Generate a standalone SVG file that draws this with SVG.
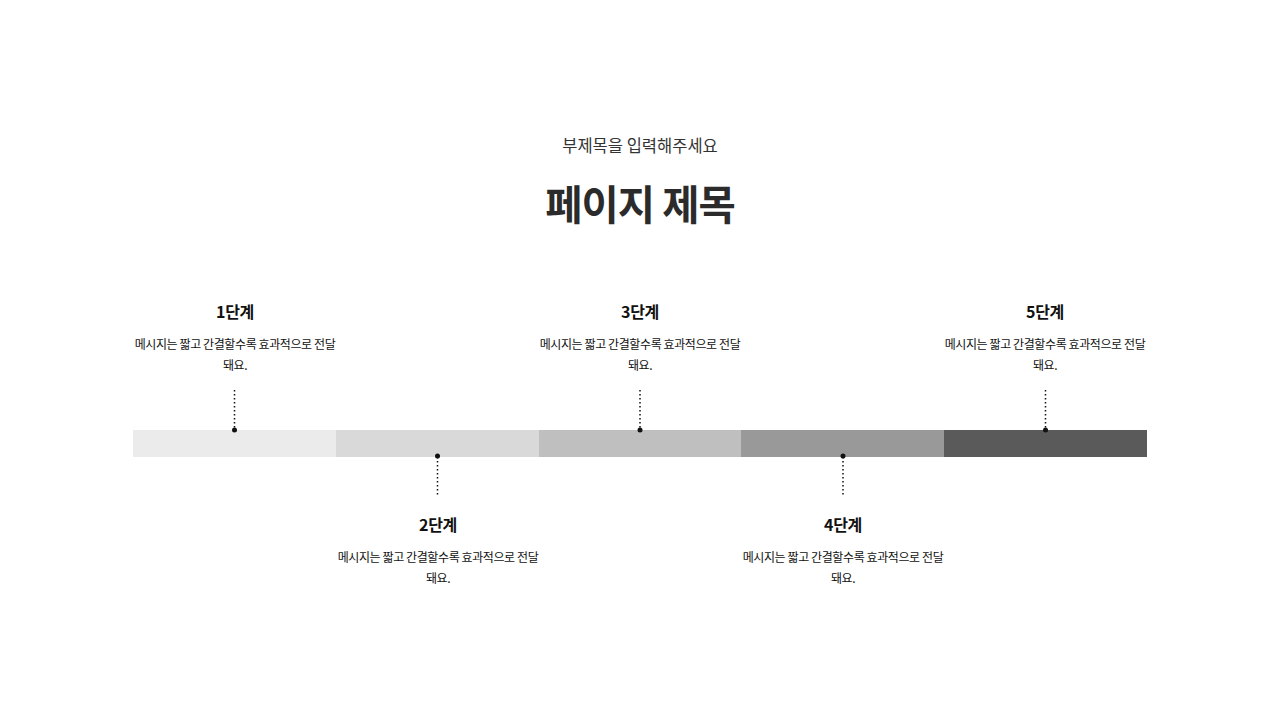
<svg xmlns="http://www.w3.org/2000/svg" width="1280" height="720" viewBox="0 0 1280 720">
<style>
text{font-family:"Noto Sans CJK KR","Noto Sans",sans-serif;text-anchor:middle}
.sub{font-size:16.5px;fill:#333}
.title{font-size:40.5px;font-weight:700;fill:#2b2b2b;letter-spacing:-1px}
.step{font-size:16px;font-weight:700;fill:#111;letter-spacing:-0.3px}
.desc{font-size:12px;fill:#111;letter-spacing:-0.4px}
.dl{stroke:#111;stroke-width:1.5;stroke-dasharray:1.5 2.5;fill:none}
.dot{fill:#111}
</style>
<rect width="1280" height="720" fill="#fff"/>
<g id="header">
<text class="sub" x="640" y="152">부제목을 입력해주세요</text>
<text class="title" x="640" y="220">페이지 제목</text>
</g>
<g id="bar">
<rect x="133" y="430" width="203" height="27" fill="#ebebeb"/>
<rect x="336" y="430" width="203" height="27" fill="#d9d9d9"/>
<rect x="539" y="430" width="202" height="27" fill="#bfbfbf"/>
<rect x="741" y="430" width="203" height="27" fill="#999999"/>
<rect x="944" y="430" width="203" height="27" fill="#5a5a5a"/>
</g>
<g id="connectors">
<line class="dl" x1="234.5" y1="390" x2="234.5" y2="430"/>
<line class="dl" x1="437.5" y1="457" x2="437.5" y2="496"/>
<line class="dl" x1="640" y1="390" x2="640" y2="430"/>
<line class="dl" x1="843" y1="457" x2="843" y2="496"/>
<line class="dl" x1="1045.5" y1="390" x2="1045.5" y2="430"/>
<circle class="dot" cx="234.5" cy="430" r="2.5"/>
<circle class="dot" cx="437.5" cy="456" r="2.5"/>
<circle class="dot" cx="640" cy="430" r="2.5"/>
<circle class="dot" cx="843" cy="456" r="2.5"/>
<circle class="dot" cx="1045.5" cy="430" r="2.5"/>
</g>
<g id="step1">
<text class="step" x="235" y="318">1단계</text>
<text class="desc" x="235" y="348.5">메시지는 짧고 간결할수록 효과적으로 전달</text>
<text class="desc" x="235" y="369.5">돼요.</text>
</g>
<g id="step2">
<text class="step" x="438" y="531">2단계</text>
<text class="desc" x="438" y="561.5">메시지는 짧고 간결할수록 효과적으로 전달</text>
<text class="desc" x="438" y="582.5">돼요.</text>
</g>
<g id="step3">
<text class="step" x="640" y="318">3단계</text>
<text class="desc" x="640" y="348.5">메시지는 짧고 간결할수록 효과적으로 전달</text>
<text class="desc" x="640" y="369.5">돼요.</text>
</g>
<g id="step4">
<text class="step" x="843" y="531">4단계</text>
<text class="desc" x="843" y="561.5">메시지는 짧고 간결할수록 효과적으로 전달</text>
<text class="desc" x="843" y="582.5">돼요.</text>
</g>
<g id="step5">
<text class="step" x="1045" y="318">5단계</text>
<text class="desc" x="1045" y="348.5">메시지는 짧고 간결할수록 효과적으로 전달</text>
<text class="desc" x="1045" y="369.5">돼요.</text>
</g>
</svg>
